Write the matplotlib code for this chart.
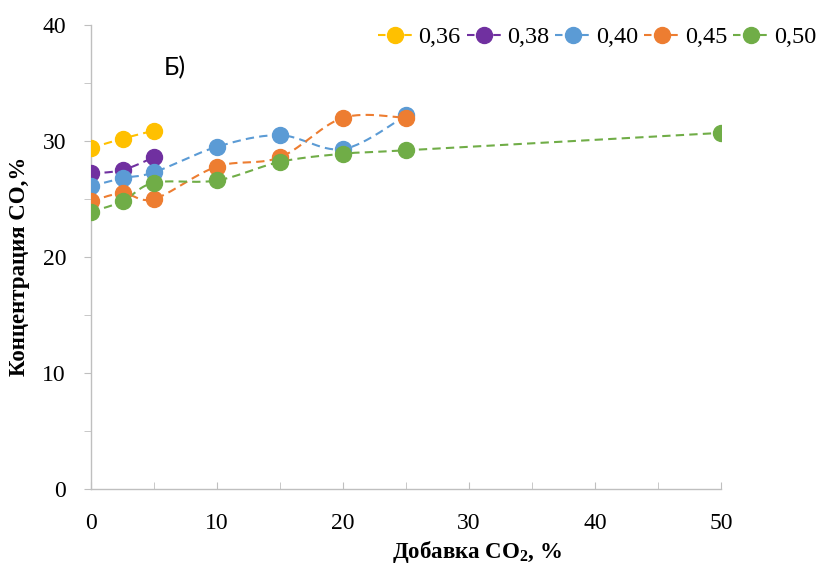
import numpy as np
import matplotlib
matplotlib.use("Agg")
import matplotlib.pyplot as plt
from matplotlib.lines import Line2D

# ---- data ----
series_names = ["0,36", "0,38", "0,40", "0,45", "0,50"]
x_036 = [0, 2.5, 5]
y_036 = [29.4, 30.2, 30.9]
x_038 = [0, 2.5, 5]
y_038 = [27.2, 27.5, 28.6]
x_040 = [0, 2.5, 5, 10, 15, 20, 25]
y_040 = [26.1, 26.8, 27.3, 29.5, 30.5, 29.3, 32.2]
x_045 = [0, 2.5, 5, 10, 15, 20, 25]
y_045 = [24.8, 25.5, 25.0, 27.8, 28.6, 32.0, 32.0]
x_050 = [0, 2.5, 5, 10, 15, 20, 25, 50]
y_050 = [23.9, 24.8, 26.4, 26.6, 28.2, 28.9, 29.2, 30.7]
colors = ["#FFC000", "#7030A0", "#5B9BD5", "#ED7D31", "#70AD47"]
x_ticks = [0, 10, 20, 30, 40, 50]
y_ticks = [0, 10, 20, 30, 40]

xs = [x_036, x_038, x_040, x_045, x_050]
ys = [y_036, y_038, y_040, y_045, y_050]

plt.rcParams['font.family'] = ['Liberation Serif', 'DejaVu Serif']
plt.rcParams['mathtext.fontset'] = 'custom'
plt.rcParams['mathtext.rm'] = 'Liberation Serif'
plt.rcParams['mathtext.bf'] = 'Liberation Serif:bold'

fig = plt.figure(figsize=(8.19, 5.66), dpi=100)
ax = fig.add_axes([91/819, 1-489/566, (721-91)/819, (489-25)/566])
ax.set_xlim(0, 50)
ax.set_ylim(0, 40)


def smooth(xd, yd, n=30):
    pts = ax.transData.transform(np.column_stack([xd, yd]))
    if len(pts) < 2:
        return np.array(xd), np.array(yd)
    out = [pts[0]]
    m = len(pts)
    for i in range(m - 1):
        p0 = pts[i - 1] if i > 0 else pts[i]
        p1 = pts[i]
        p2 = pts[i + 1]
        p3 = pts[i + 2] if i + 2 < m else pts[i + 1]
        c1 = p1 + (p2 - p0) / 6.0
        c2 = p2 - (p3 - p1) / 6.0
        t = np.linspace(0, 1, n)[1:, None]
        b = ((1 - t) ** 3) * p1 + 3 * ((1 - t) ** 2) * t * c1 + 3 * (1 - t) * t ** 2 * c2 + t ** 3 * p2
        out.extend(b)
    out = np.array(out)
    d = ax.transData.inverted().transform(out)
    return d[:, 0], d[:, 1]


dash = (0, (4, 2.5))
for xd, yd, c in zip(xs, ys, colors):
    sx, sy = smooth(xd, yd)
    ax.plot(sx, sy, color=c, lw=1.5, linestyle=dash, zorder=3)
    ax.plot(xd, yd, linestyle='none', marker='o', markersize=11.5,
            markerfacecolor=c, markeredgecolor=c, zorder=4)

for s in ['top', 'right']:
    ax.spines[s].set_visible(False)
for s in ['left', 'bottom']:
    ax.spines[s].set_color('#BFBFBF')
    ax.spines[s].set_linewidth(1.0)

ax.set_xticks(x_ticks)
ax.set_yticks(y_ticks)
ax.set_xticks(np.arange(0, 51, 5), minor=True)
ax.set_yticks(np.arange(0, 41, 5), minor=True)
ax.tick_params(axis='x', which='both', direction='in', length=5, color='#BFBFBF',
               labelsize=17, pad=17)
ax.tick_params(axis='y', which='both', direction='out', length=5, color='#BFBFBF',
               labelsize=17, pad=13)

fig.text(477/819, 1-552/566, "Добавка CO$_\\mathbf{2}$, %", ha='center', va='center',
         fontsize=16.5, fontweight='bold')
fig.text(20/819, 1-266/566, "Концентрация CO,%", ha='center', va='center',
         fontsize=16.5, fontweight='bold', rotation=90)
fig.text(175/819, 1-68/566, "Б)", ha='center', va='center', fontsize=18,
         family=['Lato', 'DejaVu Sans'])

handles = [Line2D([], [], color=c, lw=1.5, linestyle=(0, (3.6, 9)), marker='o',
                  markersize=11.5, markerfacecolor=c, markeredgecolor=c) for c in colors]
fig.legend(handles, series_names, loc='center right', bbox_to_anchor=(816/819, 1-37/566),
           ncol=5, frameon=False, fontsize=17.5, handlelength=1.45, handletextpad=0.22,
           columnspacing=0.25, borderpad=0, borderaxespad=0)

fig.savefig("out.png", dpi=100)
